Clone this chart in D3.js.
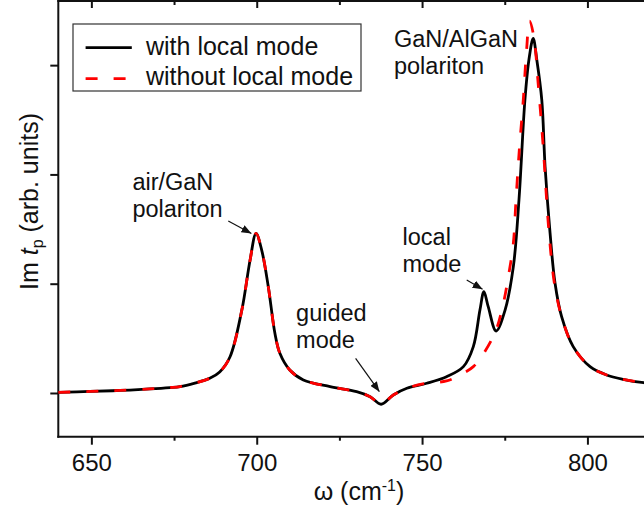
<!DOCTYPE html>
<html>
<head>
<meta charset="utf-8">
<script src="https://cdn.jsdelivr.net/npm/d3@7"></script>
<style>
  body { margin: 0; background: #fff; }
  svg { display: block; font-family: "Liberation Sans", Arial, sans-serif; }
</style>
</head>
<body>
<svg id="chart"></svg>
<script>
// wavenumber (cm-1) and Im t_p (arb. units)
const wnWith = [640, 649.6, 658.7, 667.7, 673.8, 676.8, 681.3, 685.8, 688.8, 691.9,
  695.5, 698.0, 699.8, 701.5, 703.5, 705.5, 707.0, 710.0, 714.1, 722.2,
  730.2, 734.3, 737.6, 741.3, 745.4, 751.4, 757.4, 762.5, 765.5, 767.5,
  768.7, 770.0, 772.4, 775.1, 777.6, 779.3, 781.1, 782.3, 783.6, 784.7,
  786.2, 787.2, 788.7, 790.2, 792.2, 795.7, 800.8, 805.8, 810.8, 817.0, 820];
const imWith = [0.006, 0.014, 0.023, 0.037, 0.050, 0.059, 0.091, 0.134, 0.192, 0.329,
  0.759, 1.217, 1.461, 1.308, 0.973, 0.546, 0.363, 0.210, 0.119, 0.058,
  0.012, -0.034, -0.103, -0.018, 0.043, 0.089, 0.149, 0.241, 0.424, 0.759,
  0.927, 0.790, 0.567, 0.759, 1.156, 1.766, 2.681, 3.047, 3.245, 3.047,
  2.681, 2.070, 1.464, 1.006, 0.698, 0.424, 0.241, 0.165, 0.125, 0.094, 0.087];

const wnWithout = [640, 649.6, 658.7, 667.7, 673.8, 676.8, 681.3, 685.8, 688.8, 691.9,
  695.5, 698.0, 699.8, 701.5, 703.5, 705.5, 707.0, 710.0, 714.1, 722.2,
  730.2, 734.3, 737.6, 741.3, 745.4, 751.4, 757.4, 762.5, 765.5, 768.0,
  771.0, 772.6, 774.6, 776.1, 777.6, 778.4, 779.4, 780.6, 781.6, 782.5,
  783.8, 785.1, 786.7, 787.4, 788.4, 790.0, 792.2, 795.7, 800.8, 805.8,
  810.8, 817.0, 820];
const imWithout = [0.006, 0.014, 0.023, 0.037, 0.050, 0.059, 0.091, 0.134, 0.192, 0.329,
  0.759, 1.217, 1.461, 1.308, 0.973, 0.546, 0.363, 0.210, 0.119, 0.058,
  0.012, -0.034, -0.103, -0.018, 0.043, 0.089, 0.110, 0.181, 0.241, 0.333,
  0.485, 0.592, 0.821, 1.065, 1.372, 1.766, 2.223, 2.681, 3.138, 3.403,
  3.260, 2.834, 2.223, 1.888, 1.464, 1.006, 0.698, 0.424, 0.241, 0.165,
  0.125, 0.094, 0.087];

const xMajor = [650, 700, 750, 800];
const xMinor = [675, 725, 775];
const yTicks = [0, 1, 2, 3];

const seriesNames = ['with local mode', 'without local mode'];

// annotation text (left, baseline of first line) and arrow (from -> to), in data units
const noteLines = [['air/GaN', 'polariton'], ['GaN/AlGaN', 'polariton'], ['guided', 'mode'], ['local', 'mode']];
const noteAt = [[662.4, 1.857], [741.5, 3.168], [711.9, 0.661], [744.1, 1.354]];
const arrowFrom = [[691.4, 1.574], null, [729.9, 0.317], [763.5, 1.034]];
const arrowTo = [[698.4, 1.459], null, [737.1, 0.012], [768.3, 0.949]];

const W = 644, H = 513;
const margin = { left: 58.3, top: 1, bottom: 436.7 };

const svg = d3.select('#chart').attr('width', W).attr('height', H);

const x = d3.scaleLinear().domain([640, 820]).range([margin.left, margin.left + 180 * 3.307]);
const y = d3.scaleLinear().domain([-0.4, 3.596]).range([margin.bottom, 0]);

svg.append('defs').append('marker')
  .attr('id', 'arr')
  .attr('viewBox', '0 0 10 8')
  .attr('refX', 10).attr('refY', 4)
  .attr('markerWidth', 10).attr('markerHeight', 8)
  .attr('markerUnits', 'userSpaceOnUse')
  .attr('orient', 'auto')
  .append('path').attr('d', 'M0,0 L10,4 L0,8 z').attr('fill', '#111');

// axes
const bottomMajor = svg.append('g')
  .attr('transform', `translate(0, ${margin.bottom})`)
  .call(d3.axisBottom(x).tickValues(xMajor).tickSize(8).tickSizeOuter(0).tickPadding(9));
svg.append('g')
  .attr('transform', `translate(0, ${margin.bottom})`)
  .call(d3.axisBottom(x).tickValues(xMinor).tickSize(4).tickSizeOuter(0).tickFormat(''));
svg.append('g')
  .attr('transform', `translate(0, ${margin.top})`)
  .call(d3.axisTop(x).tickValues(xMajor).tickSize(-7).tickSizeOuter(0).tickFormat(''));
svg.append('g')
  .attr('transform', `translate(0, ${margin.top})`)
  .call(d3.axisTop(x).tickValues(xMinor).tickSize(-4).tickSizeOuter(0).tickFormat(''));
svg.append('g')
  .attr('transform', `translate(${margin.left}, 0)`)
  .call(d3.axisLeft(y).tickValues(yTicks).tickSize(8).tickSizeOuter(0).tickFormat(''));

svg.selectAll('.domain').remove();
svg.selectAll('.tick line').attr('stroke', '#111').attr('stroke-width', 2);
bottomMajor.selectAll('text')
  .attr('fill', '#111')
  .style('font-size', '24px')
  .style('font-family', '"Liberation Sans", Arial, sans-serif');

svg.append('line')
  .attr('x1', margin.left).attr('x2', margin.left)
  .attr('y1', 0).attr('y2', margin.bottom + 1)
  .attr('stroke', '#111').attr('stroke-width', 2);
svg.append('line')
  .attr('x1', margin.left - 1).attr('x2', W)
  .attr('y1', margin.bottom).attr('y2', margin.bottom)
  .attr('stroke', '#111').attr('stroke-width', 2);
svg.append('line')
  .attr('x1', margin.left - 1).attr('x2', W)
  .attr('y1', margin.top).attr('y2', margin.top)
  .attr('stroke', '#111').attr('stroke-width', 2);

// axis titles
const xt = svg.append('text')
  .attr('x', 359).attr('y', 500)
  .attr('text-anchor', 'middle')
  .style('font-size', '25px').attr('fill', '#111');
xt.append('tspan').text('ω (cm');
xt.append('tspan').attr('dy', -9).style('font-size', '16px').text('-1');
xt.append('tspan').attr('dy', 9).text(')');

const yt = svg.append('text')
  .attr('transform', 'translate(38, 201.5) rotate(-90)')
  .attr('text-anchor', 'middle')
  .style('font-size', '25px').attr('fill', '#111');
yt.append('tspan').text('Im ');
yt.append('tspan').style('font-style', 'italic').text('t');
yt.append('tspan').attr('dy', 5).style('font-size', '16px').text('p');
yt.append('tspan').attr('dy', -5).text(' (arb. units)');

// curves
const line = d3.line().x(d => x(d[0])).y(d => y(d[1])).curve(d3.curveCatmullRom.alpha(0.5));
const ptsWith = wnWith.map((w, i) => [w, imWith[i]]);
const ptsWithout = wnWithout.map((w, i) => [w, imWithout[i]]);

svg.append('path')
  .attr('d', line(ptsWith))
  .attr('fill', 'none').attr('stroke', '#000').attr('stroke-width', 2.8)
  .attr('stroke-linejoin', 'round');
svg.append('path')
  .attr('d', line(ptsWithout))
  .attr('fill', 'none').attr('stroke', '#ff0000').attr('stroke-width', 2.8)
  .attr('stroke-dasharray', '12,16');

// annotations
noteLines.forEach((lines, i) => {
  const t = svg.append('text')
    .attr('x', x(noteAt[i][0])).attr('y', y(noteAt[i][1]))
    .style('font-size', '23.5px').attr('fill', '#111');
  lines.forEach((s, j) => {
    t.append('tspan').attr('x', x(noteAt[i][0])).attr('dy', j === 0 ? 0 : 27.3).text(s);
  });
  if (arrowFrom[i]) {
    svg.append('line')
      .attr('x1', x(arrowFrom[i][0])).attr('y1', y(arrowFrom[i][1]))
      .attr('x2', x(arrowTo[i][0])).attr('y2', y(arrowTo[i][1]))
      .attr('stroke', '#111').attr('stroke-width', 1.2)
      .attr('marker-end', 'url(#arr)');
  }
});

// legend
const lg = svg.append('g');
lg.append('rect')
  .attr('x', 73).attr('y', 24).attr('width', 288).attr('height', 67)
  .attr('fill', '#fff').attr('stroke', '#333').attr('stroke-width', 1.2);
[['#000', null], ['#ff0000', '12,16']].forEach((s, i) => {
  const ly = 47.7 + i * 31;
  lg.append('line')
    .attr('x1', 85.6).attr('x2', 131.8).attr('y1', ly).attr('y2', ly)
    .attr('stroke', s[0]).attr('stroke-width', 2.8)
    .attr('stroke-dasharray', s[1]);
  lg.append('text')
    .attr('x', 146).attr('y', 55 + i * 30)
    .style('font-size', '25px').attr('fill', '#111')
    .text(seriesNames[i]);
});
</script>
</body>
</html>
